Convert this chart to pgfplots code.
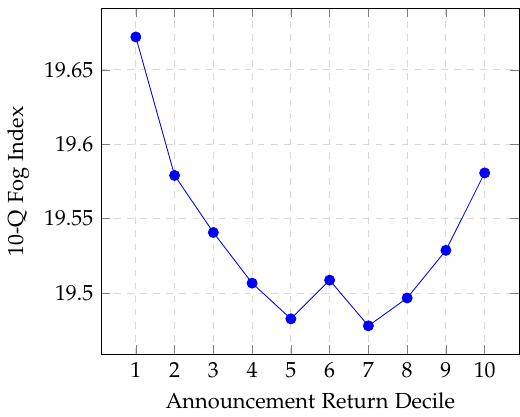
\documentclass[border=0pt]{standalone}
\usepackage[T1]{fontenc}
\usepackage[sc]{mathpazo}
\usepackage{pgfplots}
\pgfplotsset{compat=1.18}
\begin{document}
\begin{tikzpicture}
\begin{axis}[
  scale only axis,
  width=192pt, height=159pt,
  xlabel={Announcement Return Decile},
  ylabel={10-Q Fog Index},
  xtick={1,...,10},
  ytick={19.5,19.55,19.6,19.65},
  yticklabels={19.5,19.55,19.6,19.65},
  grid=major,
  major grid style={dashed, gray!30},
  after end axis/.code={\path (rel axis cs:0,1) ++(0,3.7pt);},
]
\addplot[blue, mark=*, mark size=2.3pt, mark options={fill=blue}] coordinates {
(1,19.672) (2,19.579) (3,19.5407) (4,19.5067) (5,19.4827)
(6,19.5087) (7,19.478) (8,19.4967) (9,19.5287) (10,19.5807)
};
\end{axis}
\end{tikzpicture}
\end{document}
